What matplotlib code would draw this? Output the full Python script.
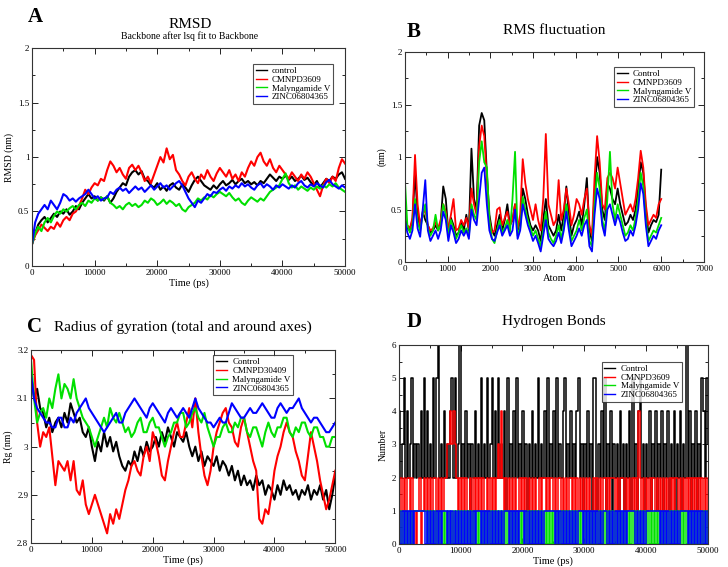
import numpy as np
import matplotlib
matplotlib.use("Agg")
import matplotlib.pyplot as plt
from matplotlib.ticker import MultipleLocator, FormatStrFormatter

plt.rcParams["font.family"] = ["Liberation Serif", "DejaVu Serif"]

names_a = ["control", "CMNPD3609", "Malyngamide V", "ZINC06804365"]
names_b = ["Control", "CMNPD3609", "Malyngamide V", "ZINC06804365"]
names_c = ["Control", "CMNPD30409", "Malyngamide V", "ZINC06804365"]
colors = ["#000000", "#ff0000", "#00e000", "#0000ff"]

# --- A: RMSD (nm), sampled every 500 ps from 0 to 50000 ps
rmsd_ctrl = [0.20, 0.30, 0.38, 0.42, 0.45, 0.40, 0.44, 0.48, 0.45, 0.50,
             0.48, 0.52, 0.47, 0.50, 0.55, 0.52, 0.58, 0.62, 0.66, 0.62,
             0.64, 0.60, 0.63, 0.60, 0.64, 0.58, 0.62, 0.68, 0.72, 0.76,
             0.74, 0.82, 0.86, 0.88, 0.84, 0.87, 0.80, 0.78, 0.74, 0.72,
             0.76, 0.70, 0.73, 0.69, 0.74, 0.76, 0.72, 0.70, 0.75, 0.72,
             0.68, 0.74, 0.79, 0.82, 0.78, 0.74, 0.72, 0.70, 0.74, 0.71,
             0.75, 0.78, 0.74, 0.76, 0.79, 0.75, 0.78, 0.80, 0.76, 0.78,
             0.75, 0.77, 0.74, 0.78, 0.76, 0.80, 0.84, 0.81, 0.78, 0.82,
             0.80, 0.83, 0.79, 0.82, 0.78, 0.80, 0.83, 0.79, 0.81, 0.77,
             0.74, 0.78, 0.72, 0.76, 0.80, 0.78, 0.82, 0.80, 0.84, 0.86,
             0.80]
rmsd_cmnpd = [0.20, 0.28, 0.33, 0.38, 0.35, 0.32, 0.36, 0.34, 0.40, 0.36,
              0.42, 0.45, 0.42, 0.48, 0.50, 0.55, 0.62, 0.70, 0.66, 0.72,
              0.76, 0.74, 0.80, 0.78, 0.88, 0.96, 0.92, 0.86, 0.90, 0.84,
              0.80, 0.90, 0.93, 0.88, 0.92, 0.86, 0.78, 0.82, 0.76, 0.84,
              0.92, 1.00, 0.95, 1.08, 0.98, 1.02, 0.88, 0.84, 0.78, 0.74,
              0.82, 0.86, 0.80, 0.76, 0.84, 0.80, 0.88, 0.82, 0.78, 0.85,
              0.90, 0.86, 0.82, 0.88, 0.80, 0.84, 0.78, 0.86, 0.82, 0.90,
              0.96, 0.92, 1.00, 1.04, 0.96, 0.92, 0.98, 0.90, 0.86, 0.92,
              0.88, 0.84, 0.80, 0.86, 0.82, 0.78, 0.84, 0.80, 0.86, 0.82,
              0.76, 0.70, 0.64, 0.74, 0.80, 0.76, 0.82, 0.78, 0.90, 0.98,
              0.94]
rmsd_maly = [0.20, 0.30, 0.36, 0.32, 0.40, 0.44, 0.40, 0.46, 0.50, 0.48,
             0.52, 0.50, 0.53, 0.55, 0.52, 0.56, 0.58, 0.55, 0.60, 0.58,
             0.62, 0.60, 0.63, 0.61, 0.64, 0.58, 0.56, 0.53, 0.55, 0.52,
             0.56, 0.58, 0.55, 0.57, 0.54, 0.56, 0.60, 0.58, 0.62, 0.60,
             0.56, 0.58, 0.61, 0.57, 0.60, 0.58, 0.55, 0.57, 0.52, 0.50,
             0.54, 0.56, 0.58, 0.62, 0.60, 0.63, 0.61, 0.65, 0.63, 0.66,
             0.68, 0.66, 0.64, 0.67, 0.63, 0.60, 0.62, 0.58, 0.56, 0.60,
             0.63, 0.61, 0.59, 0.62, 0.60, 0.64, 0.68, 0.70, 0.72, 0.74,
             0.80, 0.85, 0.76, 0.72, 0.74, 0.70, 0.73, 0.71, 0.69, 0.72,
             0.70, 0.73, 0.71, 0.74, 0.72, 0.75, 0.73, 0.76, 0.72, 0.70,
             0.68]
rmsd_zinc = [0.20, 0.40, 0.48, 0.52, 0.56, 0.52, 0.60, 0.56, 0.52, 0.58,
             0.66, 0.64, 0.60, 0.62, 0.59, 0.62, 0.64, 0.66, 0.70, 0.66,
             0.62, 0.64, 0.60, 0.62, 0.63, 0.68, 0.66, 0.70, 0.72, 0.69,
             0.71, 0.67, 0.70, 0.73, 0.70, 0.72, 0.68, 0.71, 0.74, 0.70,
             0.73, 0.76, 0.72, 0.74, 0.70, 0.73, 0.76, 0.78, 0.74, 0.68,
             0.62, 0.58, 0.54, 0.60, 0.58, 0.62, 0.66, 0.64, 0.68, 0.67,
             0.70, 0.72, 0.69, 0.73, 0.71, 0.74, 0.72, 0.76, 0.73, 0.75,
             0.72, 0.70, 0.74, 0.76, 0.72, 0.75, 0.73, 0.70, 0.74, 0.72,
             0.75, 0.73, 0.71, 0.74, 0.72, 0.76, 0.78, 0.74, 0.72, 0.75,
             0.73, 0.76, 0.74, 0.72, 0.77, 0.79, 0.75, 0.73, 0.71, 0.74,
             0.72]

# --- B: RMSF (nm), sampled every 60 atoms from 0 to 6000
rmsf_ctrl = [0.45, 0.32, 0.30, 0.40, 0.85, 0.45, 0.32, 0.48, 0.40, 0.35,
             0.28, 0.30, 0.35, 0.30, 0.38, 0.72, 0.60, 0.28, 0.42, 0.35,
             0.25, 0.28, 0.38, 0.30, 0.45, 0.30, 1.08, 0.60, 0.50, 1.30,
             1.42, 1.35, 0.85, 0.45, 0.30, 0.25, 0.35, 0.45, 0.30, 0.40,
             0.55, 0.35, 0.40, 0.55, 0.30, 0.38, 0.70, 0.60, 0.45, 0.35,
             0.30, 0.35, 0.30, 0.20, 0.40, 0.60, 0.35, 0.30, 0.25, 0.30,
             0.45, 0.30, 0.45, 0.72, 0.45, 0.25, 0.35, 0.40, 0.48, 0.35,
             0.55, 0.80, 0.30, 0.20, 0.65, 1.00, 0.85, 0.50, 0.40, 0.75,
             0.70, 0.60, 0.55, 0.70, 0.55, 0.45, 0.35, 0.38, 0.45, 0.40,
             0.50, 0.70, 0.95, 0.85, 0.50, 0.28, 0.35, 0.40, 0.38, 0.45,
             0.88]
rmsf_cmnpd = [0.30, 0.35, 0.32, 0.42, 1.02, 0.55, 0.35, 0.45, 0.50, 0.35,
              0.30, 0.32, 0.38, 0.32, 0.40, 0.55, 0.48, 0.30, 0.45, 0.60,
              0.30, 0.32, 0.40, 0.35, 0.42, 0.32, 0.70, 0.55, 0.45, 1.10,
              1.30, 1.20, 0.80, 0.40, 0.28, 0.30, 0.50, 0.52, 0.35, 0.42,
              0.48, 0.35, 0.40, 0.55, 0.32, 0.45, 0.98, 0.75, 0.60, 0.50,
              0.40, 0.55, 0.40, 0.30, 0.60, 1.22, 0.55, 0.45, 0.35, 0.40,
              0.78, 0.40, 0.50, 0.70, 0.55, 0.35, 0.45, 0.60, 0.55, 0.45,
              0.60, 0.70, 0.35, 0.25, 0.80, 1.20, 0.95, 0.55, 0.50, 0.80,
              0.85, 0.80, 0.70, 0.90, 0.75, 0.60, 0.45, 0.50, 0.55, 0.48,
              0.60, 0.80, 1.06, 0.90, 0.55, 0.35, 0.40, 0.45, 0.42, 0.55,
              0.60]
rmsf_maly = [0.80, 0.35, 0.28, 0.35, 0.60, 0.38, 0.30, 0.45, 0.55, 0.32,
             0.25, 0.30, 0.45, 0.30, 0.35, 0.55, 0.45, 0.25, 0.40, 0.32,
             0.22, 0.28, 0.35, 0.28, 0.32, 0.25, 0.55, 0.45, 0.40, 0.95,
             1.15, 0.95, 0.90, 0.40, 0.22, 0.18, 0.30, 0.40, 0.28, 0.32,
             0.40, 0.28, 0.60, 1.05, 0.25, 0.32, 0.62, 0.50, 0.40, 0.32,
             0.25, 0.30, 0.22, 0.15, 0.30, 0.48, 0.28, 0.22, 0.18, 0.25,
             0.35, 0.22, 0.35, 0.55, 0.35, 0.20, 0.25, 0.30, 0.40, 0.30,
             0.42, 0.50, 0.20, 0.15, 0.55, 0.85, 0.70, 0.40, 0.30, 0.60,
             1.05, 0.55, 0.40, 0.55, 0.45, 0.35, 0.25, 0.28, 0.35, 0.30,
             0.42, 0.60, 0.85, 0.72, 0.40, 0.20, 0.25, 0.30, 0.28, 0.35,
             0.42]
rmsf_zinc = [0.40, 0.28, 0.22, 0.30, 0.55, 0.32, 0.24, 0.50, 0.78, 0.30,
             0.20, 0.25, 0.30, 0.22, 0.30, 0.48, 0.40, 0.20, 0.35, 0.28,
             0.18, 0.22, 0.30, 0.25, 0.30, 0.22, 0.50, 0.40, 0.35, 0.60,
             0.85, 0.90, 0.55, 0.30, 0.22, 0.20, 0.28, 0.35, 0.25, 0.30,
             0.35, 0.25, 0.30, 0.50, 0.22, 0.30, 0.55, 0.45, 0.35, 0.28,
             0.20, 0.25, 0.18, 0.10, 0.25, 0.40, 0.22, 0.18, 0.15, 0.20,
             0.28, 0.18, 0.30, 0.48, 0.30, 0.15, 0.20, 0.25, 0.32, 0.25,
             0.35, 0.40, 0.15, 0.10, 0.45, 0.70, 0.60, 0.35, 0.25, 0.50,
             0.55, 0.45, 0.35, 0.45, 0.38, 0.28, 0.20, 0.22, 0.30, 0.25,
             0.35, 0.50, 0.75, 0.65, 0.35, 0.15, 0.20, 0.25, 0.22, 0.30,
             0.35]

# --- C: radius of gyration (nm), every 500 ps
rg_ctrl = [3.15, 3.10, 3.12, 3.08, 3.07, 3.04, 3.06, 3.03, 3.05, 3.06,
           3.04, 3.07, 3.05, 3.09, 3.07, 3.05, 3.06, 3.03, 3.02, 3.04,
           3.00, 2.97, 3.01, 2.99, 3.03, 3.00, 3.02, 2.99, 3.01, 2.98,
           2.96, 2.95, 2.97, 2.96, 2.99, 2.97, 3.00, 2.98, 3.01, 2.99,
           3.00, 3.02, 3.00, 3.03, 3.01, 3.04, 3.02, 3.00, 3.03, 3.02,
           3.01, 3.03, 3.00, 2.98, 3.00, 2.97, 2.99, 2.96, 2.98, 2.97,
           2.96, 2.98, 2.95, 2.97, 2.96, 2.94, 2.96, 2.93, 2.95, 2.92,
           2.94, 2.92, 2.93, 2.91, 2.94, 2.92, 2.93, 2.90, 2.92, 2.91,
           2.89, 2.92, 2.90, 2.93, 2.91, 2.92, 2.90, 2.91, 2.89, 2.91,
           2.90, 2.92, 2.89, 2.91, 2.90, 2.92, 2.89, 2.91, 2.87, 2.90,
           2.94]
rg_cmnpd = [3.19, 3.18, 3.05, 3.00, 3.03, 3.02, 3.04, 2.98, 2.92, 2.97,
            2.96, 2.95, 2.97, 2.93, 2.97, 2.91, 2.90, 2.93, 2.88, 2.86,
            2.88, 2.90, 2.88, 2.86, 2.84, 2.82, 2.86, 2.84, 2.87, 2.85,
            2.88, 2.91, 2.93, 2.96, 2.97, 2.95, 2.94, 2.98, 3.00, 2.97,
            3.03, 3.01, 2.98, 2.94, 2.93, 2.97, 3.00, 3.03, 3.05, 3.02,
            3.02, 3.05, 3.08, 3.04, 3.10, 3.03, 2.98, 2.94, 2.92, 2.95,
            3.00, 3.03, 3.05, 3.07, 3.08, 3.05, 3.04, 3.01, 3.00, 3.04,
            3.06, 3.03, 3.00, 2.97, 2.95, 2.85, 2.84, 2.87, 2.86, 2.90,
            2.95, 2.98, 3.00, 3.03, 3.05, 3.03, 3.02, 2.99, 2.97, 2.94,
            2.93, 2.98, 3.03, 3.00, 2.97, 2.93, 2.90, 2.87, 2.89, 2.92,
            2.95]
rg_maly = [3.18, 3.10, 3.05, 3.07, 3.08, 3.06, 3.10, 3.08, 3.12, 3.15,
           3.10, 3.13, 3.12, 3.10, 3.14, 3.10, 3.08, 3.06, 3.05, 3.04,
           3.02, 3.00, 3.02, 3.04, 3.06, 3.04, 3.08, 3.06, 3.05, 3.07,
           3.05, 3.03, 3.04, 3.02, 3.03, 3.05, 3.06, 3.03, 3.03, 3.05,
           3.06, 3.04, 3.04, 3.02, 3.00, 3.02, 3.03, 3.05, 3.05, 3.07,
           3.07, 3.04, 3.05, 3.07, 3.08, 3.06, 3.05, 3.07, 3.04, 3.02,
           3.00, 3.02, 3.02, 3.04, 3.05, 3.03, 3.03, 3.05, 3.04, 3.06,
           3.06, 3.03, 3.02, 3.04, 3.04, 3.02, 3.00, 3.03, 3.05, 3.03,
           3.02, 3.04, 3.04, 3.06, 3.06, 3.03, 3.02, 3.04, 3.03, 3.05,
           3.05, 3.03, 3.02, 3.04, 3.04, 3.02, 3.02, 3.00, 3.00, 3.02,
           3.02]
rg_zinc = [3.15, 3.10, 3.08, 3.07, 3.06, 3.05, 3.05, 3.04, 3.04, 3.06,
           3.06, 3.04, 3.04, 3.06, 3.05, 3.07, 3.08, 3.09, 3.10, 3.08,
           3.07, 3.06, 3.05, 3.04, 3.03, 3.04, 3.05, 3.06, 3.07, 3.05,
           3.05, 3.07, 3.08, 3.09, 3.10, 3.09, 3.08, 3.07, 3.06, 3.08,
           3.09, 3.08, 3.07, 3.06, 3.05, 3.07, 3.08, 3.07, 3.06, 3.07,
           3.08, 3.07, 3.06, 3.08, 3.10, 3.08, 3.07, 3.06, 3.05, 3.05,
           3.04, 3.05, 3.06, 3.05, 3.05, 3.07, 3.09, 3.08, 3.07, 3.06,
           3.06, 3.07, 3.08, 3.07, 3.07, 3.08, 3.09, 3.08, 3.07, 3.06,
           3.06, 3.08, 3.09, 3.08, 3.07, 3.08, 3.08, 3.09, 3.10, 3.08,
           3.07, 3.06, 3.05, 3.06, 3.06, 3.05, 3.04, 3.03, 3.03, 3.04,
           3.05]

# --- D: number of hydrogen bonds, every 250 ps
hb_ctrl = [4, 2, 3, 5, 2, 4, 2, 3, 5, 2,
           3, 2, 3, 2, 4, 2, 5, 2, 4, 2,
           3, 2, 5, 2, 5, 6, 2, 3, 2, 4,
           2, 3, 2, 4, 5, 2, 5, 2, 3, 6,
           2, 3, 2, 4, 2, 3, 1, 3, 2, 4,
           2, 3, 2, 5, 2, 3, 2, 5, 2, 3,
           5, 2, 4, 2, 5, 2, 3, 2, 4, 1,
           5, 2, 3, 2, 4, 2, 5, 2, 3, 2,
           4, 2, 3, 1, 3, 2, 4, 2, 3, 2,
           5, 2, 3, 2, 4, 2, 5, 2, 3, 2,
           4, 2, 5, 2, 3, 2, 4, 5, 2, 3,
           2, 4, 2, 3, 2, 4, 5, 2, 3, 1,
           3, 2, 4, 2, 3, 1, 5, 5, 1, 3,
           2, 4, 2, 5, 1, 3, 2, 4, 1, 3,
           2, 3, 1, 4, 2, 3, 1, 3, 2, 4,
           1, 5, 2, 3, 1, 4, 5, 2, 3, 1,
           3, 2, 4, 1, 3, 2, 4, 1, 3, 2,
           4, 1, 3, 2, 4, 1, 3, 2, 4, 1,
           3, 2, 4, 1, 3, 2, 6, 2, 4, 1,
           3, 2, 4, 1, 3, 2, 5, 4, 2, 5,
           3]
hb_cmnpd = [1, 2, 1, 2, 1, 2, 2, 1, 2, 0,
            1, 0, 1, 2, 0, 1, 2, 1, 2, 1,
            2, 1, 2, 2, 1, 2, 1, 2, 1, 2,
            2, 3, 3, 4, 3, 4, 3, 2, 1, 2,
            1, 2, 1, 2, 1, 1, 2, 1, 2, 1,
            2, 1, 2, 1, 2, 1, 1, 2, 1, 2,
            1, 2, 1, 2, 3, 2, 4, 2, 1, 2,
            1, 2, 1, 2, 1, 2, 1, 1, 2, 1,
            2, 1, 2, 1, 2, 1, 2, 1, 2, 1,
            1, 2, 1, 2, 2, 1, 2, 1, 2, 2,
            1, 2, 1, 2, 2, 1, 2, 1, 2, 1,
            2, 2, 1, 2, 1, 2, 1, 2, 1, 2,
            1, 2, 1, 2, 1, 1, 2, 1, 2, 1,
            2, 1, 2, 2, 1, 2, 1, 2, 2, 2,
            1, 2, 1, 2, 2, 2, 1, 2, 1, 2,
            1, 2, 1, 2, 1, 4, 2, 1, 2, 1,
            2, 1, 2, 1, 2, 2, 1, 2, 1, 2,
            1, 2, 1, 2, 1, 2, 1, 2, 1, 2,
            2, 1, 2, 1, 2, 1, 2, 1, 2, 1,
            2, 1, 2, 1, 2, 1, 2, 1, 2, 1,
            2]
hb_maly = [0, 1, 0, 1, 0, 1, 0, 1, 0, 1,
           1, 1, 1, 1, 1, 1, 1, 1, 0, 1,
           0, 1, 0, 1, 0, 1, 0, 1, 0, 1,
           0, 1, 0, 1, 0, 1, 0, 1, 0, 1,
           0, 1, 0, 1, 0, 1, 0, 1, 0, 1,
           0, 1, 0, 1, 0, 1, 0, 1, 0, 1,
           0, 1, 0, 1, 0, 1, 0, 1, 0, 1,
           0, 1, 0, 1, 0, 1, 0, 1, 0, 1,
           0, 1, 0, 1, 0, 1, 0, 1, 0, 1,
           0, 1, 0, 1, 0, 1, 0, 1, 0, 1,
           0, 1, 0, 1, 0, 1, 0, 1, 0, 1,
           0, 1, 0, 1, 0, 1, 0, 1, 0, 1,
           0, 1, 0, 1, 0, 1, 0, 1, 0, 1,
           0, 1, 0, 1, 0, 1, 0, 1, 0, 1,
           0, 1, 0, 1, 0, 1, 0, 1, 0, 1,
           0, 1, 0, 1, 0, 1, 0, 1, 0, 1,
           0, 1, 0, 1, 0, 1, 0, 1, 0, 1,
           0, 1, 0, 1, 0, 1, 0, 1, 0, 1,
           0, 1, 0, 1, 0, 1, 0, 1, 0, 1,
           0, 1, 0, 1, 0, 1, 0, 1, 0, 1,
           0]
hb_zinc = [1, 0, 1, 0, 1, 0, 1, 0, 1, 0,
           1, 1, 1, 1, 1, 1, 1, 0, 1, 0,
           1, 0, 1, 0, 1, 0, 1, 0, 1, 1,
           1, 0, 1, 0, 1, 0, 1, 0, 1, 0,
           1, 0, 1, 0, 1, 0, 1, 0, 1, 0,
           1, 1, 1, 0, 1, 0, 1, 0, 1, 0,
           1, 0, 1, 0, 1, 0, 1, 0, 1, 1,
           1, 0, 1, 0, 1, 0, 1, 0, 1, 1,
           1, 0, 1, 0, 1, 0, 1, 0, 1, 0,
           1, 0, 1, 0, 1, 1, 1, 1, 1, 1,
           1, 0, 1, 0, 1, 0, 1, 0, 1, 0,
           1, 0, 1, 0, 1, 0, 1, 1, 1, 0,
           1, 0, 1, 0, 1, 0, 1, 0, 1, 0,
           1, 0, 1, 1, 1, 0, 1, 0, 1, 0,
           1, 0, 1, 0, 1, 0, 1, 0, 1, 1,
           1, 1, 1, 0, 1, 0, 1, 0, 1, 0,
           1, 1, 1, 1, 1, 1, 1, 1, 1, 0,
           1, 0, 1, 0, 1, 0, 1, 0, 1, 0,
           1, 0, 1, 1, 1, 1, 1, 0, 1, 0,
           1, 0, 1, 0, 1, 0, 1, 0, 1, 0,
           1]


def style(ax, xmaj, xmin, ymaj, ymin, yfmt="%g"):
    ax.xaxis.set_major_locator(MultipleLocator(xmaj))
    ax.xaxis.set_minor_locator(MultipleLocator(xmin))
    ax.yaxis.set_major_locator(MultipleLocator(ymaj))
    ax.yaxis.set_minor_locator(MultipleLocator(ymin))
    ax.xaxis.set_major_formatter(FormatStrFormatter("%d"))
    ax.yaxis.set_major_formatter(FormatStrFormatter(yfmt))
    ax.tick_params(which="both", direction="in", top=True, right=True,
                   labelsize=6.5, width=0.6, pad=2)
    ax.tick_params(which="major", length=4)
    ax.tick_params(which="minor", length=2)
    for s in ax.spines.values():
        s.set_linewidth(0.8)
        s.set_color("#333333")


def legend(ax, names, x, y):
    leg = ax.legend(names, loc="upper right", bbox_to_anchor=(x, y),
                    fontsize=6.5, frameon=True, fancybox=False,
                    handlelength=1.2, handletextpad=0.6, borderpad=0.3,
                    labelspacing=0.05, borderaxespad=0)
    leg.get_frame().set_edgecolor("#222222")
    leg.get_frame().set_linewidth(0.8)
    for h in leg.get_lines():
        h.set_linewidth(1.0)


fig = plt.figure(figsize=(7.28, 5.67), dpi=100)

# ---------- A
axA = fig.add_axes([0.044, 0.531, 0.430, 0.384])
for v, c in zip([rmsd_ctrl, rmsd_cmnpd, rmsd_maly, rmsd_zinc], colors):
    axA.plot(np.linspace(0, 50000, len(v)), v, color=c, lw=1.5)
axA.set_xlim(0, 50000)
axA.set_ylim(0, 2)
style(axA, 10000, 5000, 0.5, 0.25)
axA.set_xlabel("Time (ps)", fontsize=7.5, labelpad=1)
axA.set_ylabel("RMSD (nm)", fontsize=7, labelpad=3)
legend(axA, names_a, 0.962, 0.927)
fig.text(190 / 728, 1 - 24 / 567, "RMSD", ha="center", va="center", fontsize=11)
fig.text(190 / 728, 1 - 36 / 567, "Backbone after lsq fit to Backbone",
         ha="center", va="center", fontsize=7)
fig.text(35 / 728, 1 - 17 / 567, "A", ha="center", va="center",
         fontsize=15, fontweight="bold")

# ---------- B
axB = fig.add_axes([0.556, 0.538, 0.411, 0.370])
for v, c in zip([rmsf_ctrl, rmsf_cmnpd, rmsf_maly, rmsf_zinc], colors):
    axB.plot(np.linspace(0, 6000, len(v)), v, color=c, lw=1.3)
axB.set_xlim(0, 7000)
axB.set_ylim(0, 2)
style(axB, 1000, 500, 0.5, 0.25)
axB.set_xlabel("Atom", fontsize=7.5, labelpad=1)
axB.set_ylabel("(nm)", fontsize=7, labelpad=3)
legend(axB, names_b, 0.967, 0.929)
fig.text(554 / 728, 1 - 30 / 567, "RMS fluctuation", ha="center",
         va="center", fontsize=11)
fig.text(414 / 728, 1 - 32 / 567, "B", ha="center", va="center",
         fontsize=15, fontweight="bold")

# ---------- C
axC = fig.add_axes([0.0426, 0.0423, 0.418, 0.340])
for v, c in zip([rg_ctrl, rg_cmnpd, rg_maly, rg_zinc], colors):
    axC.plot(np.linspace(0, 50000, len(v)), v, color=c, lw=1.5)
axC.set_xlim(0, 50000)
axC.set_ylim(2.8, 3.2)
style(axC, 10000, 5000, 0.1, 0.05)
axC.set_xlabel("Time (ps)", fontsize=7.5, labelpad=1)
axC.set_ylabel("Rg (nm)", fontsize=7, labelpad=3)
legend(axC, names_c, 0.862, 0.974)
fig.text(183 / 728, 1 - 327 / 567, "Radius of gyration (total and around axes)",
         ha="center", va="center", fontsize=11)
fig.text(35 / 728, 1 - 327 / 567, "C", ha="center", va="center",
         fontsize=15, fontweight="bold")

# ---------- D
axD = fig.add_axes([0.548, 0.0406, 0.424, 0.351])
for v, c in zip([hb_ctrl, hb_cmnpd, hb_maly, hb_zinc], colors):
    axD.step(np.linspace(0, 50000, len(v)), v, where="post", color=c, lw=1.1)
axD.set_xlim(0, 50000)
axD.set_ylim(0, 6)
style(axD, 10000, 5000, 1, 0.5)
axD.set_xlabel("Time (ps)", fontsize=7.5, labelpad=1)
axD.set_ylabel("Number", fontsize=7, labelpad=3)
legend(axD, names_b, 0.916, 0.915)
fig.text(554 / 728, 1 - 322 / 567, "Hydrogen Bonds", ha="center",
         va="center", fontsize=11)
fig.text(414 / 728, 1 - 322 / 567, "D", ha="center", va="center",
         fontsize=15, fontweight="bold")

fig.savefig("out.png", dpi=100)
